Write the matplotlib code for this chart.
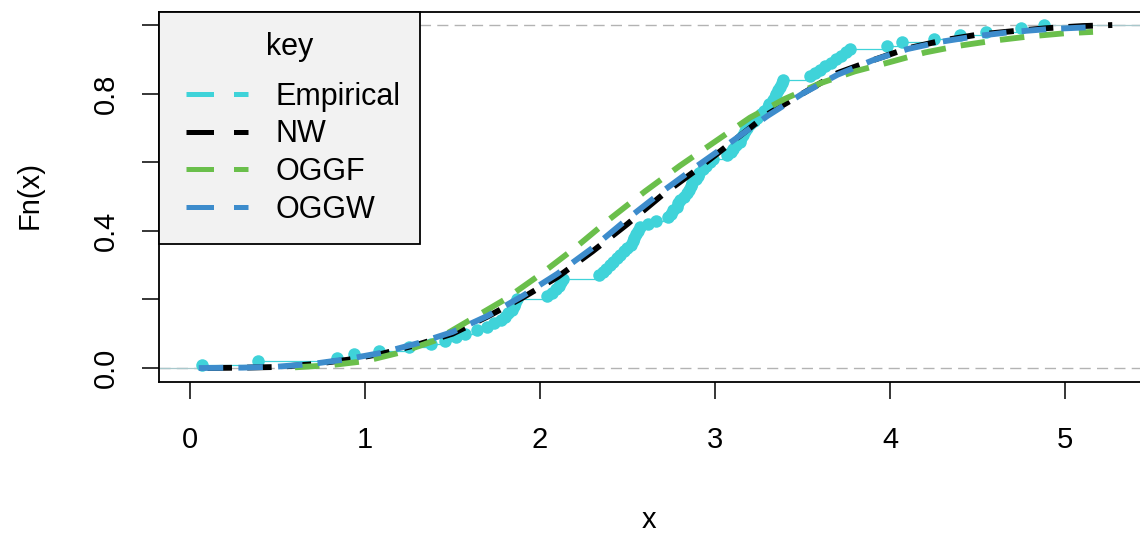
import numpy as np
import matplotlib
matplotlib.use('Agg')
import matplotlib.pyplot as plt
from matplotlib.lines import Line2D

plt.rcParams['font.family'] = ['Liberation Sans', 'DejaVu Sans']

# sorted sample behind the empirical cdf
sample = [0.07, 0.39, 0.84, 0.94, 1.08, 1.25, 1.38, 1.46, 1.52, 1.57,
          1.64, 1.70, 1.74, 1.78, 1.80, 1.82, 1.84, 1.85, 1.86, 1.87,
          2.04, 2.07, 2.09, 2.11, 2.12, 2.13, 2.34, 2.36, 2.38, 2.40,
          2.42, 2.44, 2.46, 2.48, 2.50, 2.52, 2.53, 2.54, 2.55, 2.56,
          2.57, 2.62, 2.66, 2.73, 2.75, 2.76, 2.78, 2.79, 2.80, 2.82,
          2.84, 2.85, 2.86, 2.87, 2.89, 2.90, 2.91, 2.93, 2.95, 2.97,
          2.99, 3.07, 3.09, 3.10, 3.12, 3.14, 3.15, 3.16, 3.17, 3.18,
          3.20, 3.22, 3.24, 3.26, 3.28, 3.30, 3.31, 3.33, 3.34, 3.35,
          3.36, 3.37, 3.38, 3.39, 3.54, 3.57, 3.60, 3.63, 3.66, 3.69,
          3.72, 3.75, 3.77, 3.98, 4.07, 4.25, 4.40, 4.55, 4.75, 4.88]

nw_x = [0.1, 0.3, 0.5, 0.7, 0.9, 1.1, 1.3, 1.5, 1.7, 1.9, 2.1, 2.3, 2.5, 2.7,
        2.9, 3.1, 3.3, 3.5, 3.7, 3.9, 4.1, 4.3, 4.5, 4.7, 4.9, 5.1, 5.27]
nw_y = [0.0, 0.001, 0.003, 0.011, 0.024, 0.042, 0.068, 0.10, 0.15, 0.205,
        0.265, 0.34, 0.42, 0.505, 0.58, 0.66, 0.74, 0.80, 0.86, 0.897,
        0.932, 0.955, 0.972, 0.982, 0.991, 0.997, 1.0]

oggf_x = [0.6, 0.8, 1.0, 1.2, 1.4, 1.6, 1.8, 2.0, 2.2, 2.4, 2.6, 2.8, 3.0,
          3.2, 3.4, 3.6, 3.8, 4.0, 4.2, 4.4, 4.6, 4.8, 5.0, 5.16]
oggf_y = [0.002, 0.008, 0.02, 0.045, 0.08, 0.14, 0.20, 0.272, 0.35, 0.435,
          0.515, 0.59, 0.66, 0.73, 0.785, 0.83, 0.865, 0.892, 0.92, 0.94,
          0.955, 0.967, 0.976, 0.98]

oggw_x = [0.05, 0.3, 0.5, 0.7, 0.9, 1.1, 1.3, 1.5, 1.7, 1.9, 2.1, 2.3, 2.5,
          2.7, 2.9, 3.1, 3.3, 3.5, 3.7, 3.9, 4.1, 4.3, 4.5, 4.7, 4.9, 5.16]
oggw_y = [0.0, 0.001, 0.004, 0.012, 0.026, 0.045, 0.072, 0.105, 0.152, 0.21,
          0.275, 0.35, 0.435, 0.515, 0.59, 0.662, 0.735, 0.80, 0.855, 0.897,
          0.93, 0.952, 0.968, 0.98, 0.988, 0.994]

labels = ['Empirical', 'NW', 'OGGF', 'OGGW']
colors = ['#3fd3d9', '#000000', '#6abf4b', '#3d8ccc']

xs = np.sort(np.array(sample))
Fn = np.arange(1, len(xs) + 1) / len(xs)

fig = plt.figure(figsize=(11.4, 5.35), dpi=100)
ax = fig.add_axes([159 / 1140, 153 / 535, 986 / 1140, 370 / 535])
x0, x1 = -0.177, 5.457
ax.set_xlim(x0, x1)
ax.set_ylim(-0.0408, 1.038)

# ecdf: reference lines, steps, points
ax.axhline(0, color='#b3b3b3', lw=1, ls=(0, (8, 4.5)), zorder=1)
ax.axhline(1, color='#b3b3b3', lw=1, ls=(0, (8, 4.5)), zorder=1)
ax.hlines(Fn[:-1], xs[:-1], xs[1:], color=colors[0], lw=0.9, zorder=2)
ax.hlines([0, 1], [x0, xs[-1]], [xs[0], x1], color='#a8c8cc', lw=0.9, zorder=2)
ax.plot(xs, Fn, 'o', color=colors[0], ms=9, mec='none', zorder=3)

ax.plot(nw_x, nw_y, color=colors[1], lw=4.2, ls=(0, (4.2, 2.6)), zorder=4)
ax.plot(oggf_x, oggf_y, color=colors[2], lw=4.2, ls=(0, (4.2, 2.6)), zorder=5)
ax.plot(oggw_x, oggw_y, color=colors[3], lw=4.2, ls=(0, (4.2, 2.6)), zorder=6)

ax.set_xticks(range(6))
ax.set_yticks([0, 0.2, 0.4, 0.6, 0.8, 1.0])
ax.set_yticklabels(['0.0', '', '0.4', '', '0.8', ''])
ax.tick_params(length=12, width=1.1, labelsize=21)
ax.tick_params(axis='x', pad=20)
ax.tick_params(axis='y', pad=16, labelrotation=90)
for lbl in ax.get_yticklabels():
    lbl.set_va('center')
for s in ax.spines.values():
    s.set_linewidth(1.3)

ax.set_xlabel('x', fontsize=21)
ax.xaxis.set_label_coords(0.497, -0.373)
ax.xaxis.label.set_va('center')
ax.set_ylabel('Fn(x)', fontsize=21)
ax.yaxis.set_label_coords(-0.131, 0.505)
ax.yaxis.label.set_va('center')

# legend handles start after a short gap, like the R key
handles = [Line2D([], [], color=c, lw=3.6, ls=(8.1, (5.5, 4))) for c in colors]
leg = ax.legend(handles, labels, title='key', loc='upper left',
                bbox_to_anchor=(0, 1), borderaxespad=0, fontsize=22,
                title_fontsize=22, fancybox=False, facecolor='#f2f2f2',
                edgecolor='black', framealpha=1, handlelength=2.26,
                handletextpad=0.9, borderpad=0.65, labelspacing=0.25)
leg._legend_box.sep = 14.2
leg.get_frame().set_linewidth(1.3)
leg.set_zorder(10)

fig.savefig('out.png', dpi=100)
